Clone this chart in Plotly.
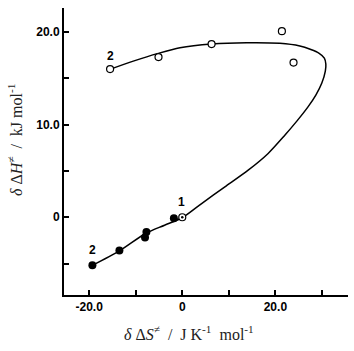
import plotly.graph_objects as go

# Data
open_x = [-15.5, -5.1, 6.3, 21.4, 23.9]
open_y = [16.0, 17.3, 18.7, 20.1, 16.7]
filled_x = [-19.3, -13.5, -7.7, -8.0, -1.8]
filled_y = [-5.2, -3.6, -1.6, -2.2, -0.1]
ref_x = [0.0]
ref_y = [0.0]

curve_x = [-19.3, -13.5, -7.8, -3.8, 0.15, 4.16, 9.16, 14.16, 18.45, 22.03, 24.61,
           26.97, 28.69, 29.98, 30.73, 30.84, 30.52, 29.33, 27.62, 25.26, 20.97, 13.82,
           6.31, -0.49, -5.15, -10.52, -15.4]
curve_y = [-5.2, -3.64, -1.73, -0.86, 0.0, 1.48, 3.28, 5.08, 6.89, 8.86, 10.38,
           11.89, 13.19, 14.49, 15.78, 16.54, 17.19, 17.73, 18.11, 18.49, 18.78, 18.84,
           18.7, 18.3, 17.7, 16.86, 16.0]

x_ticks = [-20, 0, 20]
x_ticktext = ["-20.0", "0", "20.0"]
x_minor = [-10, 10, 30]
y_ticks = [0, 10, 20]
y_ticktext = ["0", "10.0", "20.0"]
y_minor = [-5, 5, 15]

labels = [("2", -19.2, -3.5), ("2", -15.4, 17.4), ("1", -0.1, 1.6)]

NB = "\u00a0"
x_title = ("<i>δ</i>" + NB + "Δ<i>S</i><sup>≠</sup>" + NB * 2 + "/" + NB * 2 + "J" + NB +
           "K<sup>-1</sup>" + NB * 2 + "mol<sup>-1</sup>")
y_title = ("<i>δ</i>" + NB + "Δ<i>H</i><sup>≠</sup>" + NB * 2 + "/" + NB * 2 + "kJ" + NB +
           "mol<sup>-1</sup>")

fig = go.Figure()
fig.add_trace(go.Scatter(x=curve_x, y=curve_y, mode="lines",
                         line=dict(color="black", width=1.5, shape="spline", smoothing=0.8),
                         hoverinfo="skip"))
fig.add_trace(go.Scatter(x=filled_x, y=filled_y, mode="markers",
                         marker=dict(symbol="circle", size=8, color="black")))
fig.add_trace(go.Scatter(x=open_x, y=open_y, mode="markers",
                         marker=dict(symbol="circle", size=7, color="white",
                                     line=dict(color="black", width=1.2))))
fig.add_trace(go.Scatter(x=ref_x, y=ref_y, mode="markers",
                         marker=dict(symbol="circle", size=7, color="white",
                                     line=dict(color="black", width=1.2))))
fig.add_trace(go.Scatter(x=ref_x, y=ref_y, mode="markers",
                         marker=dict(symbol="circle", size=2.5, color="black")))

for t, x, y in labels:
    fig.add_annotation(x=x, y=y, text="<b>%s</b>" % t, showarrow=False,
                       font=dict(family="Liberation Sans", size=12, color="black"))

fig.add_annotation(xref="paper", yref="paper", x=0.44, y=-0.132,
                   text=x_title,
                   showarrow=False, xanchor="center", yanchor="middle",
                   font=dict(family="Liberation Serif", size=16, color="#222"))
fig.add_annotation(xref="paper", yref="paper", x=-0.1725, y=0.54,
                   text=y_title,
                   showarrow=False, xanchor="center", yanchor="middle", textangle=-90,
                   font=dict(family="Liberation Serif", size=16, color="#222"))

axis_common = dict(showline=True, linewidth=2, linecolor="black", showgrid=False,
                   zeroline=False, ticks="inside", ticklen=5, tickwidth=1.5,
                   tickcolor="black", mirror=False,
                   tickfont=dict(family="Liberation Sans", size=12, color="black"))

fig.update_xaxes(range=[-25.4, 35.6], tickvals=x_ticks,
                 ticktext=["<b>%s</b>" % s for s in x_ticktext],
                 minor=dict(tickvals=x_minor, ticks="inside", ticklen=5, tickwidth=1.5,
                            tickcolor="black"),
                 **axis_common)
fig.update_yaxes(range=[-8.4, 22.6], tickvals=y_ticks,
                 ticktext=["<b>%s</b>" % s for s in y_ticktext],
                 minor=dict(tickvals=y_minor, ticks="inside", ticklen=5, tickwidth=1.5,
                            tickcolor="black"),
                 **axis_common)

fig.update_layout(width=354, height=351, showlegend=False,
                  margin=dict(l=64, r=6, t=8, b=56),
                  plot_bgcolor="white", paper_bgcolor="white")

fig.write_html("out.html", config={"displayModeBar": False},
               post_script="document.body.style.margin='0';document.body.style.overflow='hidden';")
